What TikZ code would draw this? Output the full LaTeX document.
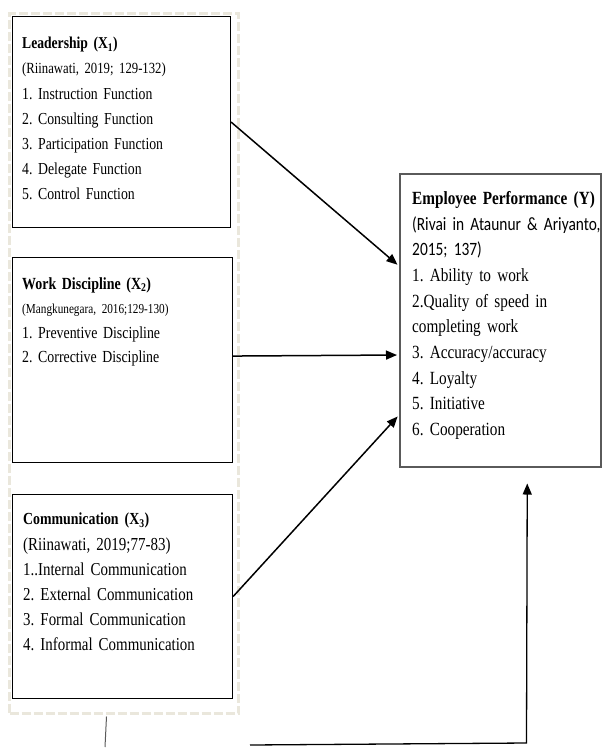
\documentclass[tikz,border=0pt]{standalone}
\usepackage{fontspec}
\setmainfont{Liberation Serif}[FakeStretch=0.82, WordSpace=0.7]
\newfontfamily\calibri{Carlito}[FakeStretch=0.82, WordSpace=0.75]
\usetikzlibrary{arrows.meta}
\usetikzlibrary{positioning}
\definecolor{dashbeige}{HTML}{EAE7DC}
\definecolor{edgegray}{HTML}{5A5A5A}
\frenchspacing
\newcommand{\sized}[2]{{\fontsize{#1}{#1}\selectfont #2}}
\tikzset{
    varbox/.style={draw=black, line width=1.1pt, minimum width=220pt, anchor=north west, inner sep=0pt},
    vartext/.style={anchor=north west, align=left, text width=210pt, inner sep=0pt},
    flow/.style={line width=1.5pt, -{Triangle[length=11pt,width=9pt]}, shorten >=2pt}
}

\begin{document}
\begin{tikzpicture}[x=1pt, y=-1pt]
    \useasboundingbox (0,0) rectangle (604,748);
    \node[draw=dashbeige, line width=3pt, dash pattern=on 9pt off 3pt, minimum width=229pt, minimum height=700pt, anchor=north west, inner sep=0pt] (frame) at (8,12) {};
    \node[varbox, minimum width=218pt, minimum height=211pt] (lead) at (12,16) {};
    \node[varbox, minimum height=205pt] (disc) at (12,257) {};
    \node[varbox, minimum height=204pt] (comm) at (12,494) {};
    \node[varbox, draw=edgegray, line width=1.5pt, minimum width=201pt, minimum height=293pt] (perf) at (399,173) {};

    \node[vartext, font={\fontsize{16.8}{25.2}\selectfont}] (leadtxt) at (22,37) {
        \sized{16.6}{\bfseries Leadership (X\textsubscript{1})}\\
        \sized{15.5}{(Riinawati, 2019; 129-132)}\\
        1. Instruction Function\\
        2. Consulting Function\\
        3. Participation Function\\
        4. Delegate Function\\
        5. Control Function};
    \node[vartext, font={\fontsize{16.9}{24.5}\selectfont}] (disctxt) at (22,277) {
        \sized{17}{\bfseries Work Discipline (X\textsubscript{2})}\\
        \sized{13.7}{(Mangkunegara, 2016;129-130)}\\
        1. Preventive Discipline\\
        2. Corrective Discipline};
    \node[vartext, font={\fontsize{18.2}{25.2}\selectfont}] (commtxt) at (23,513) {
        \sized{16.9}{\bfseries Communication (X\textsubscript{3})}\\
        \sized{18.3}{(Riinawati, 2019;77-83)}\\
        1..Internal Communication\\
        2. External Communication\\
        3. Formal Communication\\
        4. Informal Communication};
    \node[vartext, text width=200pt, font={\fontsize{18.6}{25.7}\selectfont}] (perftxt) at (412,191) {
        {\bfseries Employee Performance (Y)}\\
        \sized{18.8}{\calibri (Rivai in Ataunur \& Ariyanto,}\\
        \sized{18.8}{\calibri 2015; 137)}\\
        1. Ability to work\\
        2.Quality of speed in\\
        completing work\\
        3. Accuracy/accuracy\\
        4. Loyalty\\
        5. Initiative\\
        6. Cooperation};

    \draw[flow] (lead.east) -- ([yshift=-93pt]perf.north west);
    \draw[flow] ([yshift=4pt]disc.east) -- ([yshift=-182pt]perf.north west);
    \draw[flow] (comm.east) -- ([yshift=-242pt]perf.north west);

    \coordinate (stub) at (105,747);
    \coordinate (bendL) at (250,745);
    \coordinate (bendR) at (526.5,743);
    \draw[line width=1pt, edgegray] ([xshift=-17.5pt,yshift=-1.5pt]frame.south) -- (stub);
    \draw[flow, line width=1.3pt, shorten >=0pt] (bendL) -- (bendR) -- ([xshift=27pt,yshift=-16pt]perf.south);
\end{tikzpicture}
\end{document}
